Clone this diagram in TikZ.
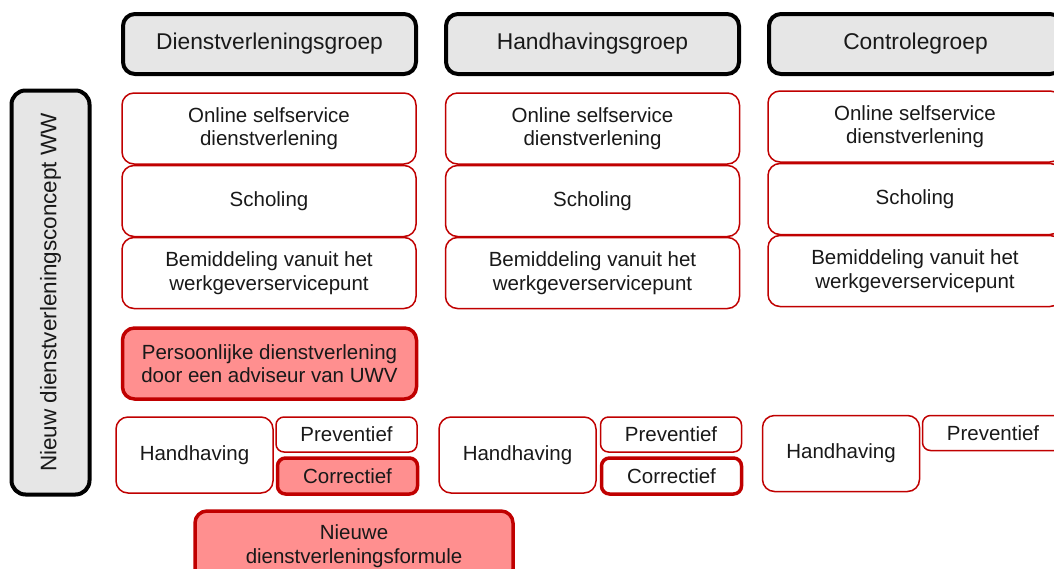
\documentclass[tikz,border=0pt]{standalone}
\usepackage{fontspec}
\setmainfont{Liberation Sans}
\definecolor{uwvred}{RGB}{192,0,0}
\definecolor{uwvpink}{RGB}{255,143,143}
\definecolor{kopgrijs}{RGB}{230,230,230}
\definecolor{tekst}{RGB}{25,25,25}
\tikzset{
	tekstfont/.style={text=tekst, align=center, font=\fontsize{20.5}{23.5}\selectfont},
	groep/.style={tekstfont, draw=black, line width=4pt, fill=kopgrijs, rounded corners=12pt, minimum width=293pt, minimum height=60pt, font=\fontsize{22.8}{26}\selectfont},
	dienst/.style={tekstfont, draw=uwvred, line width=1.5pt, fill=white, rounded corners=12pt, minimum width=294pt, minimum height=71pt},
	nieuw/.style={dienst, fill=uwvpink, line width=3.5pt},
	handh/.style={tekstfont, draw=uwvred, line width=1.5pt, fill=white, rounded corners=12pt, minimum width=157pt, minimum height=76pt},
	prev/.style={tekstfont, draw=uwvred, line width=1.5pt, fill=white, rounded corners=8pt, minimum width=141pt, minimum height=35pt},
	corr/.style={prev, line width=3.5pt, minimum width=140pt, minimum height=36pt}
}

\begin{document}
\begin{tikzpicture}[x=1pt, y=-1pt]
				\useasboundingbox (0,0) rectangle (1054,568);
				\clip (0,0) rectangle (1054,568);

				% concept, vertical
				\node (concept) [groep, rotate=90, minimum width=404pt, minimum height=78pt, rounded corners=14pt, font=\fontsize{22.5}{26}\selectfont] at (50.5,292.5) {Nieuw dienstverleningsconcept WW};

				% groepen
				\node (dvg) [groep] at (269.5,44) {Dienstverleningsgroep};
				\node (hhg) [groep] at (592.5,44) {Handhavingsgroep};
				\node (ctg) [groep] at (915.5,44) {Controlegroep};

				% dienstverlening per groep
				\foreach \g/\x/\dy in {dvg/269/0, hhg/592.5/0, ctg/915/-2} {
					\node (\g-online) [dienst] at (\x,128.5+\dy) {Online selfservice\\dienstverlening};
					\node (\g-scholing) [dienst] at (\x,201+\dy) {Scholing};
					\node (\g-bemid) [dienst] at (\x,273+\dy) {Bemiddeling vanuit het\\werkgeverservicepunt};
				}

				\node (dvg-pers) [nieuw] at (269.5,363.5) {Persoonlijke dienstverlening\\door een adviseur van UWV};

				% handhaving
				\node (dvg-hh) [handh] at (194.5,455) {Handhaving};
				\node (dvg-prev) [prev] at (346.5,434.5) {Preventief};
				\node (dvg-corr) [corr, fill=uwvpink] at (347.5,476) {Correctief};

				\node (hhg-hh) [handh] at (517.5,455) {Handhaving};
				\node (hhg-prev) [prev] at (671,434.5) {Preventief};
				\node (hhg-corr) [corr] at (671.5,476) {Correctief};

				\node (ctg-hh) [handh] at (841,453.5) {Handhaving};
				\node (ctg-prev) [prev] at (993,433) {Preventief};

				\node (formule) [nieuw, minimum width=318pt, minimum height=70pt] at (354,546) {Nieuwe\\dienstverleningsformule};
			\end{tikzpicture}
\end{document}
